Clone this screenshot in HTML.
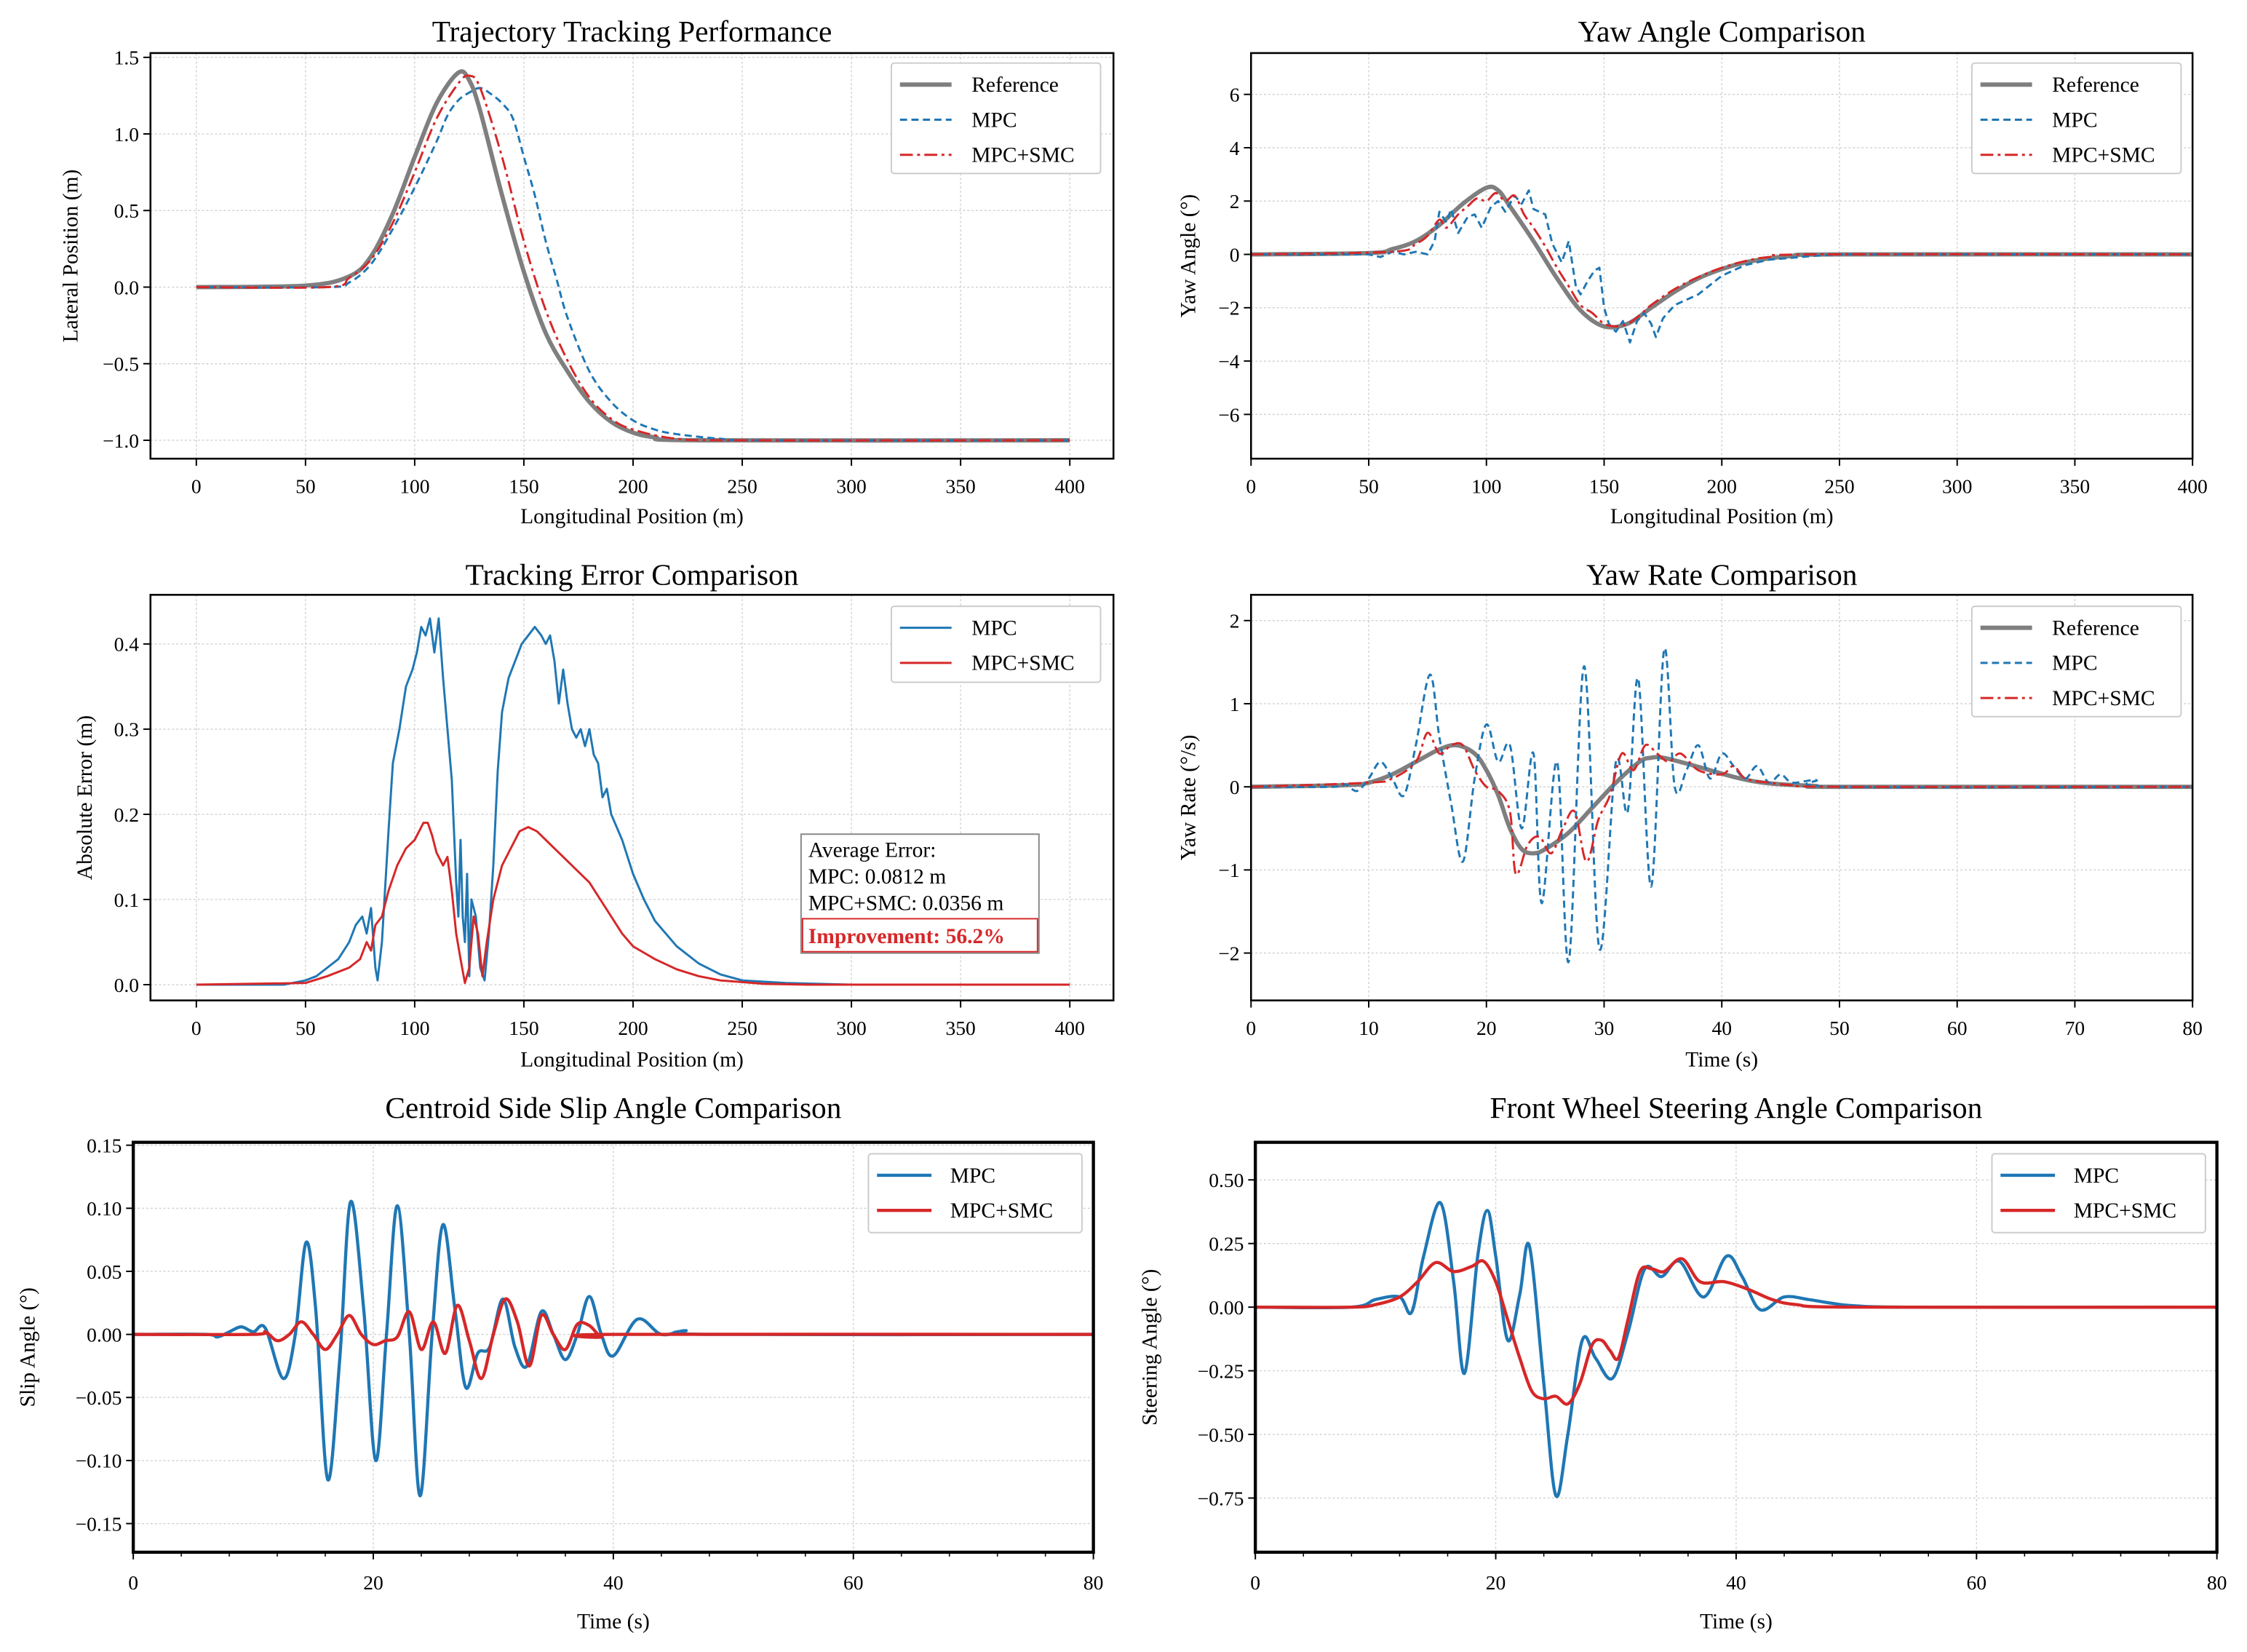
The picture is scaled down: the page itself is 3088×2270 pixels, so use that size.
<!DOCTYPE html>
<html><head><meta charset="utf-8"><style>
html,body{margin:0;padding:0;background:#fff;}
svg{display:block;font-family:"Liberation Serif",serif;}
</style></head><body>
<svg id="fig" xmlns="http://www.w3.org/2000/svg" width="3088" height="2270" viewBox="0 0 1568 1152.6"></svg>
<script>
// ---------- Panel 1: trajectory ----------
const p1RefX=[0,50,70,80,90,100,110,120,125,130,140,150,160,170,180,190,200,210,230,400];
const p1RefY=[0,0.01,0.07,0.2,0.48,0.85,1.2,1.4,1.35,1.15,0.6,0.1,-0.3,-0.55,-0.75,-0.88,-0.95,-0.98,-1.0,-1.0];
const p1MpcX=[0,60,70,80,90,100,110,115,120,125,130,135,140,145,150,155,160,165,170,180,190,200,210,220,240,260,400];
const p1MpcY=[0,0,0.03,0.15,0.38,0.65,0.95,1.12,1.22,1.27,1.3,1.26,1.2,1.1,0.85,0.6,0.3,0.05,-0.2,-0.55,-0.75,-0.87,-0.93,-0.96,-0.99,-1.0,-1.0];
const p1SmcX=[0,60,70,80,90,100,110,120,125,130,140,150,160,170,180,190,200,220,250,400];
const p1SmcY=[0,0.0,0.06,0.18,0.42,0.75,1.1,1.33,1.38,1.3,0.85,0.3,-0.15,-0.48,-0.72,-0.86,-0.93,-0.99,-1.0,-1.0];
// ---------- Panel 2: yaw angle ----------
const p2RefX=[0,50,60,70,80,90,100,105,110,120,130,140,150,160,170,180,190,200,210,220,230,250,400];
const p2RefY=[0,0.05,0.2,0.5,1.1,1.9,2.5,2.4,1.8,0.5,-0.9,-2.1,-2.7,-2.6,-2.0,-1.4,-0.9,-0.55,-0.3,-0.15,-0.06,0,0];
const p2MpcX=[0,50,55,60,65,70,75,78,80,83,85,88,92,95,98,102,105,108,112,115,118,120,125,128,132,135,138,140,143,146,148,150,152,155,158,161,164,167,170,172,175,180,185,190,200,210,220,240,250,400];
const p2MpcY=[0,0,-0.1,0.1,0,0.1,0,0.5,1.6,1.2,1.7,0.8,1.4,1.5,1.0,1.8,2.0,1.6,2.2,1.9,2.4,1.7,1.5,0.4,-0.3,0.5,-1.2,-1.5,-1.0,-0.6,-0.5,-2.0,-2.6,-2.9,-2.5,-3.3,-2.5,-2.2,-2.6,-3.1,-2.4,-1.9,-1.7,-1.5,-0.8,-0.4,-0.2,-0.05,0,0];
const p2SmcX=[0,60,70,75,80,83,88,92,96,100,104,108,112,116,120,125,130,135,140,145,150,155,160,165,170,180,190,200,210,220,240,400];
const p2SmcY=[0,0.1,0.4,0.7,1.3,1.0,1.5,1.8,2.1,2.0,2.3,2.0,2.2,1.5,1.0,0.3,-0.5,-1.2,-1.9,-2.2,-2.6,-2.7,-2.6,-2.3,-1.9,-1.3,-0.85,-0.5,-0.25,-0.1,0,0];
// ---------- Panel 3: tracking error ----------
const p3MpcX=[0,40,50,55,60,65,70,73,76,78,80,82,83,85,88,90,93,96,99,101,103,105,107,109,111,113,115,117,119,120,121,122,123,124,125,126,128,130,132,134,136,138,140,143,146,149,152,155,158,160,162,164,166,168,170,172,174,176,178,180,182,184,186,188,190,195,200,205,210,215,220,230,240,250,270,300,400];
const p3MpcY=[0,0,0.005,0.01,0.02,0.03,0.05,0.07,0.08,0.06,0.09,0.02,0.005,0.05,0.18,0.26,0.3,0.35,0.37,0.39,0.42,0.41,0.43,0.39,0.43,0.36,0.3,0.24,0.12,0.08,0.17,0.08,0.05,0.13,0.01,0.1,0.08,0.02,0.005,0.06,0.14,0.25,0.32,0.36,0.38,0.4,0.41,0.42,0.41,0.4,0.41,0.38,0.33,0.37,0.33,0.3,0.29,0.3,0.28,0.3,0.27,0.26,0.22,0.23,0.2,0.17,0.13,0.1,0.075,0.06,0.045,0.025,0.012,0.005,0.002,0,0];
const p3SmcX=[0,50,60,70,75,78,80,82,85,88,92,96,100,104,106,108,110,113,115,117,119,121,123,125,127,129,131,133,136,140,144,148,152,156,160,164,168,172,176,180,185,190,195,200,210,220,230,240,260,280,400];
const p3SmcY=[0,0.002,0.01,0.02,0.03,0.05,0.04,0.07,0.08,0.11,0.14,0.16,0.17,0.19,0.19,0.175,0.155,0.14,0.15,0.11,0.06,0.03,0.002,0.02,0.08,0.06,0.01,0.05,0.1,0.14,0.16,0.18,0.185,0.18,0.17,0.16,0.15,0.14,0.13,0.12,0.1,0.08,0.06,0.045,0.03,0.018,0.01,0.005,0.001,0,0];
// ---------- Panel 4: yaw rate ----------
const p4RefX=[0,8,10,12,14,16,17.5,19,20,21,22,23,24,25,27,29,31,33,34,35,37,39,41,43,45,48,50,80];
const p4RefY=[0,0.02,0.05,0.15,0.3,0.45,0.5,0.4,0.2,-0.1,-0.5,-0.75,-0.8,-0.75,-0.55,-0.25,0.05,0.3,0.35,0.35,0.28,0.2,0.12,0.06,0.03,0.01,0,0];
const p4MpcX=[0,7,8,9,10,11,12,13,14,15.2,16,17,18,19,20,21,22,23,24,24.7,26,27,28.3,29.6,31,32,32.9,34,35.1,36,37,38,39,40,41,42,43,44,45,46,48,50,80];
const p4MpcY=[0,0,0.03,-0.05,0.1,0.3,0.1,-0.1,0.5,1.35,0.6,-0.2,-0.9,0.1,0.75,0.3,0.5,-0.5,0.4,-1.4,0.3,-2.1,1.45,-1.95,0.3,-0.3,1.3,-1.2,1.65,0.0,0.2,0.5,0.1,0.4,0.25,0.1,0.25,0.05,0.15,0.05,0.08,0,0];
const p4SmcX=[0,10,12,14,15,16,17,18,19,20,21,22,22.5,23.5,24.5,25.5,26.5,27.5,28.5,29.5,30.5,31.5,32.5,33.5,34.5,35.5,36.5,38,40,41,42,44,46,50,80];
const p4SmcY=[0,0.05,0.1,0.3,0.65,0.4,0.5,0.5,0.2,0.0,-0.05,-0.3,-1.05,-0.7,-0.6,-0.8,-0.5,-0.3,-0.9,-0.4,-0.1,0.4,0.2,0.5,0.4,0.3,0.4,0.2,0.15,0.25,0.1,0.05,0.02,0,0];
// ---------- Panel 5: slip angle ----------
const p5MpcX=[0,6,7,8,9,10,11,12.5,13.5,14.4,15.2,16.2,17.2,18.1,19.2,20.2,21.1,22,23,23.9,24.9,25.8,26.8,27.7,28.7,29.7,30.8,31.8,32.8,34,35,36,37,38,39,40,42,44,46,48,80];
const p5MpcY=[0,0,-0.002,0.002,0.006,0.002,0.005,-0.035,0.0,0.073,0.02,-0.115,-0.02,0.105,0.02,-0.1,0.0,0.102,0.0,-0.128,0.0,0.087,0.02,-0.042,-0.015,-0.01,0.028,-0.01,-0.025,0.018,0.0,-0.02,0.0,0.03,0.0,-0.017,0.012,0.0,0.003,0,0];
const p5SmcX=[0,10,11,12,13,14,15,16,17,18,19,20,21,22,23,24,25,26,27,28,29,30,31,32,33,34,35,36,37,38,39,40,80];
const p5SmcY=[0,0,0.002,-0.005,0.0,0.01,0.0,-0.012,0.0,0.015,0.0,-0.008,-0.005,-0.002,0.018,-0.012,0.01,-0.015,0.023,-0.005,-0.035,0.0,0.028,0.01,-0.025,0.015,0.0,-0.012,0.008,0.007,-0.002,0,0];
// ---------- Panel 6: steering ----------
const p6MpcX=[0,8,10,12,13,14,15.4,16.5,17.4,18.5,19.3,20,21,22,22.8,24,25,26,27.2,28.3,29.7,31,32.4,33.8,35.3,37.3,39.2,40.5,42,44,46,48,50,55,80];
const p6MpcY=[0,0,0.03,0.04,-0.02,0.2,0.41,0.1,-0.26,0.2,0.38,0.2,-0.13,0.05,0.24,-0.3,-0.74,-0.5,-0.13,-0.2,-0.28,-0.1,0.15,0.12,0.18,0.04,0.2,0.12,-0.01,0.04,0.03,0.015,0.005,0,0];
const p6SmcX=[0,8,10,12,13.5,15,16.5,18,19,20,21,22,23,24,25,26,27,28,28.8,29.5,30.2,31,32,33,34,35.5,37,39,41,43,45,50,80];
const p6SmcY=[0,0,0.01,0.04,0.1,0.175,0.14,0.16,0.18,0.1,-0.05,-0.2,-0.33,-0.36,-0.35,-0.38,-0.3,-0.15,-0.13,-0.17,-0.2,-0.05,0.14,0.15,0.14,0.19,0.1,0.1,0.07,0.03,0.01,0,0];

const p1XTicks=[0,50,100,150,200,250,300,350,400], p1YTicks=[-1.0,-0.5,0.0,0.5,1.0,1.5];
const p2XTicks=[0,50,100,150,200,250,300,350,400], p2YTicks=[-6,-4,-2,0,2,4,6];
const p3XTicks=p1XTicks, p3YTicks=[0.0,0.1,0.2,0.3,0.4];
const p4XTicks=[0,10,20,30,40,50,60,70,80], p4YTicks=[-2,-1,0,1,2];
const p5XTicks=[0,20,40,60,80], p5YTicks=[-0.15,-0.10,-0.05,0.00,0.05,0.10,0.15];
const p6XTicks=[0,20,40,60,80], p6YTicks=[-0.75,-0.50,-0.25,0.00,0.25,0.50];

const NS="http://www.w3.org/2000/svg";
const fig=document.getElementById('fig');
const BLUE="#1f77b4",RED="#d62728",GRAY="#7f7f7f";
function mk(tag,attrs,parent){const e=document.createElementNS(NS,tag);for(const k in attrs)e.setAttribute(k,attrs[k]);(parent||fig).appendChild(e);return e;}
function fmt(v,d){const s=Math.abs(v).toFixed(d);return (v<0?"\u2212":"")+s;}
function smooth(pts){let d="M"+pts[0][0].toFixed(2)+","+pts[0][1].toFixed(2);
 for(let i=0;i<pts.length-1;i++){const p0=pts[Math.max(0,i-1)],p1=pts[i],p2=pts[i+1],p3=pts[Math.min(pts.length-1,i+2)];
  const c1=[p1[0]+(p2[0]-p0[0])/6,p1[1]+(p2[1]-p0[1])/6],c2=[p2[0]-(p3[0]-p1[0])/6,p2[1]-(p3[1]-p1[1])/6];
  d+="C"+c1[0].toFixed(2)+","+c1[1].toFixed(2)+" "+c2[0].toFixed(2)+","+c2[1].toFixed(2)+" "+p2[0].toFixed(2)+","+p2[1].toFixed(2);}
 return d;}
function poly(pts){return "M"+pts.map(p=>p[0].toFixed(2)+","+p[1].toFixed(2)).join("L");}

function panel(c){
 const g=mk('g',{});
 
 
 const sx=v=>c.x0+(v-c.xmin)/(c.xmax-c.xmin)*(c.x1-c.x0);
 const sy=v=>c.y1-(v-c.ymin)/(c.ymax-c.ymin)*(c.y1-c.y0);
 const clipId=c.name+"-clip";
 const cp=mk('clipPath',{id:clipId},g);mk('rect',{x:c.x0,y:c.y0,width:c.x1-c.x0,height:c.y1-c.y0},cp);
 c.xticks.forEach(t=>{const l=mk('line',{x1:sx(t),x2:sx(t),y1:c.y0,y2:c.y1,stroke:"#d0d0d0","stroke-width":0.7,"stroke-dasharray":"1.5,1.5"},g);});
 c.yticks.forEach(t=>{const l=mk('line',{x1:c.x0,x2:c.x1,y1:sy(t),y2:sy(t),stroke:"#d0d0d0","stroke-width":0.7,"stroke-dasharray":"1.5,1.5"},g);});
 const sg=mk('g',{"clip-path":"url(#"+clipId+")"},g);
 c.series.forEach(s=>{const pts=s.x.map((v,i)=>[sx(v),sy(s.y[i])]);
  const p=mk('path',{d:s.poly?poly(pts):smooth(pts),fill:"none",stroke:s.color,"stroke-width":s.w,"stroke-dasharray":s.dash||"none","stroke-linejoin":"round"},sg);
  
  });
 const fr=mk('rect',{x:c.x0,y:c.y0,width:c.x1-c.x0,height:c.y1-c.y0,fill:"none",stroke:"#000","stroke-width":c.bw},g);
 
 c.xticks.forEach(t=>{mk('line',{x1:sx(t),x2:sx(t),y1:c.y1,y2:c.y1+5,stroke:"#000","stroke-width":1},g);
  const tx=mk('text',{x:sx(t),y:c.y1+c.xtl,"font-size":14,"text-anchor":"middle"},g);tx.textContent=c.xfmt(t);
  });
 if(c.minor){for(let v=c.xmin;v<=c.xmax;v+=c.minor){mk('line',{x1:sx(v),x2:sx(v),y1:c.y1,y2:c.y1+3,stroke:"#000","stroke-width":0.8},g);}}
 c.yticks.forEach(t=>{mk('line',{x1:c.x0-5,x2:c.x0,y1:sy(t),y2:sy(t),stroke:"#000","stroke-width":1},g);
  const tx=mk('text',{x:c.x0-8,y:sy(t)+5,"font-size":14,"text-anchor":"end"},g);tx.textContent=c.yfmt(t);
  });
 const ti=mk('text',{x:(c.x0+c.x1)/2,y:c.ty,"font-size":21,"text-anchor":"middle"},g);ti.textContent=c.title;
 
 const xl=mk('text',{x:(c.x0+c.x1)/2,y:c.xly,"font-size":15,"text-anchor":"middle"},g);xl.textContent=c.xlabel;
 
 const yl=mk('text',{x:c.ylx,y:(c.y0+c.y1)/2,"font-size":15,"text-anchor":"middle",transform:"rotate(-90 "+c.ylx+" "+(c.y0+c.y1)/2+")"},g);yl.textContent=c.ylabel;
 
 const L=c.legend;const lg=mk('g',{},g);
 
 mk('rect',{x:L.x,y:L.y,width:L.w,height:L.h,fill:"#fff",stroke:"#ccc","stroke-width":1,rx:2},lg);
 c.series.forEach((s,i)=>{const yy=L.y+15+i*24.5;
  mk('line',{x1:L.x+6,x2:L.x+L.ll,y1:yy,y2:yy,stroke:s.color,"stroke-width":s.lw||s.w,"stroke-dasharray":s.dash||"none"},lg);
  const t=mk('text',{x:L.x+L.tx,y:yy+5,"font-size":15},lg);t.textContent=s.label;
  });
 return {g,sx,sy};
}
const f1=v=>fmt(v,1),f0=v=>fmt(v,0),f2=v=>fmt(v,2);
const DASH="5,3",DD="9,3,2,3";
panel({name:"trajectory-panel",x0:105,x1:777,y0:37,y1:320,xmin:-21,xmax:420,ymin:-1.12,ymax:1.528,xticks:p1XTicks,yticks:p1YTicks,xfmt:f0,yfmt:f1,bw:1.3,xtl:24,
 title:"Trajectory Tracking Performance",ty:29,xlabel:"Longitudinal Position (m)",xly:365,ylabel:"Lateral Position (m)",ylx:54,
 legend:{x:622,y:44,w:146,h:77,ll:42,tx:56},
 series:[{name:"reference-line",x:p1RefX,y:p1RefY,color:GRAY,w:3,label:"Reference"},
  {name:"mpc-line",x:p1MpcX,y:p1MpcY,color:BLUE,w:1.5,dash:DASH,label:"MPC"},
  {name:"mpc-smc-line",x:p1SmcX,y:p1SmcY,color:RED,w:1.5,dash:DD,label:"MPC+SMC"}]});
panel({name:"yaw-angle-panel",x0:873,x1:1530,y0:37,y1:320,xmin:0,xmax:400,ymin:-7.66,ymax:7.55,xticks:p2XTicks,yticks:p2YTicks,xfmt:f0,yfmt:f0,bw:1.3,xtl:24,
 title:"Yaw Angle Comparison",ty:29,xlabel:"Longitudinal Position (m)",xly:365,ylabel:"Yaw Angle (°)",ylx:834,
 legend:{x:1376,y:44,w:146,h:77,ll:42,tx:56},
 series:[{name:"reference-line",x:p2RefX,y:p2RefY,color:GRAY,w:3,label:"Reference"},
  {name:"mpc-line",x:p2MpcX,y:p2MpcY,color:BLUE,w:1.5,dash:DASH,label:"MPC",poly:true},
  {name:"mpc-smc-line",x:p2SmcX,y:p2SmcY,color:RED,w:1.5,dash:DD,label:"MPC+SMC"}]});
panel({name:"tracking-error-panel",x0:105,x1:777,y0:415,y1:698,xmin:-21,xmax:420,ymin:-0.0185,ymax:0.4577,xticks:p3XTicks,yticks:p3YTicks,xfmt:f0,yfmt:f1,bw:1.3,xtl:24,
 title:"Tracking Error Comparison",ty:408,xlabel:"Longitudinal Position (m)",xly:744,ylabel:"Absolute Error (m)",ylx:64,
 legend:{x:622,y:423,w:146,h:53,ll:42,tx:56},
 series:[{name:"mpc-error-line",x:p3MpcX,y:p3MpcY,color:BLUE,w:1.5,label:"MPC",poly:true},
  {name:"mpc-smc-error-line",x:p3SmcX,y:p3SmcY,color:RED,w:1.5,label:"MPC+SMC",poly:true}]});
(function(){const b=mk('g',{});
 mk('rect',{x:559,y:582,width:166,height:83,fill:"#fff",stroke:"#888","stroke-width":1},b);
 const lines=["Average Error:","MPC: 0.0812 m","MPC+SMC: 0.0356 m"];
 lines.forEach((s,i)=>{const t=mk('text',{x:564,y:598+i*18.5,"font-size":15},b);t.textContent=s;});
 mk('rect',{x:560,y:641,width:164,height:23,fill:"#fff",stroke:"#d62728","stroke-width":1},b);
 const t=mk('text',{x:564,y:658,"font-size":15,"font-weight":"bold",fill:RED},b);t.textContent="Improvement: 56.2%";
 })();
panel({name:"yaw-rate-panel",x0:873,x1:1530,y0:415,y1:698,xmin:0,xmax:80,ymin:-2.57,ymax:2.31,xticks:p4XTicks,yticks:p4YTicks,xfmt:f0,yfmt:f0,bw:1.3,xtl:24,
 title:"Yaw Rate Comparison",ty:408,xlabel:"Time (s)",xly:744,ylabel:"Yaw Rate (°/s)",ylx:834,
 legend:{x:1376,y:423,w:146,h:77,ll:42,tx:56},
 series:[{name:"reference-line",x:p4RefX,y:p4RefY,color:GRAY,w:3,label:"Reference"},
  {name:"mpc-line",x:p4MpcX,y:p4MpcY,color:BLUE,w:1.5,dash:DASH,label:"MPC"},
  {name:"mpc-smc-line",x:p4SmcX,y:p4SmcY,color:RED,w:1.5,dash:DD,label:"MPC+SMC"}]});
panel({name:"slip-angle-panel",x0:93,x1:763,y0:797,y1:1083,xmin:0,xmax:80,ymin:-0.1727,ymax:0.1523,xticks:p5XTicks,yticks:p5YTicks,xfmt:f0,yfmt:f2,bw:2.2,xtl:26,minor:4,
 title:"Centroid Side Slip Angle Comparison",ty:780,xlabel:"Time (s)",xly:1136,ylabel:"Slip Angle (°)",ylx:24,
 legend:{x:606,y:805,w:149,h:55,ll:44,tx:57},
 series:[{name:"mpc-line",x:p5MpcX,y:p5MpcY,color:BLUE,w:2.2,label:"MPC"},
  {name:"mpc-smc-line",x:p5SmcX,y:p5SmcY,color:RED,w:2.2,label:"MPC+SMC"}]});
panel({name:"steering-angle-panel",x0:876,x1:1547,y0:797,y1:1083,xmin:0,xmax:80,ymin:-0.9628,ymax:0.6476,xticks:p6XTicks,yticks:p6YTicks,xfmt:f0,yfmt:f2,bw:2.2,xtl:26,minor:4,
 title:"Front Wheel Steering Angle Comparison",ty:780,xlabel:"Time (s)",xly:1136,ylabel:"Steering Angle (°)",ylx:807,
 legend:{x:1390,y:805,w:149,h:55,ll:44,tx:57},
 series:[{name:"mpc-line",x:p6MpcX,y:p6MpcY,color:BLUE,w:2.2,label:"MPC"},
  {name:"mpc-smc-line",x:p6SmcX,y:p6SmcY,color:RED,w:2.2,label:"MPC+SMC"}]});
</script>
</body></html>
